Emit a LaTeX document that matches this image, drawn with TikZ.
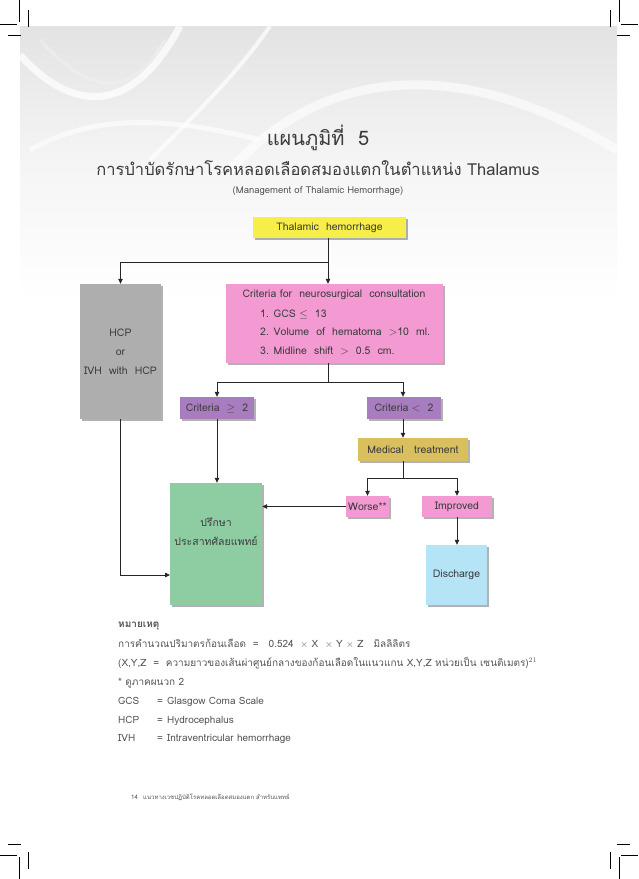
\documentclass[tikz,border=0pt]{standalone}
\usepackage{fontspec}
\setmainfont{Loma}[Script=Thai]
\usetikzlibrary{arrows.meta,shadows}
\definecolor{cyel}{HTML}{F7EE4A}
\definecolor{cpink}{HTML}{F39AD2}
\definecolor{cgray}{HTML}{AEAEAE}
\definecolor{cpurp}{HTML}{A87DBF}
\definecolor{cgold}{HTML}{D9BF5E}
\definecolor{cgreen}{HTML}{8ECDA2}
\definecolor{cblue}{HTML}{B5E4F7}
\definecolor{ctxt}{HTML}{3C3C3C}
\definecolor{cnote}{HTML}{555555}
\begin{document}
\begin{tikzpicture}[x=1pt,y=-1pt,
  box/.style={rectangle, inner sep=0pt, text=ctxt, align=center,
    font=\fontsize{10.5}{12}\selectfont,
    drop shadow={shadow xshift=1.6pt, shadow yshift=-1.6pt, opacity=0.3, fill=black}},
  btxt/.style={inner sep=0pt, text=ctxt, font=\fontsize{10.5}{12}\selectfont},
  ntxt/.style={inner sep=0pt, anchor=base west, text=cnote, font=\fontsize{10}{11}\selectfont},
  ln/.style={line width=0.8pt, draw=black!85},
  arr/.style={ln, -{Triangle[length=5pt,width=4.5pt]}},
  crop/.style={line width=0.6pt, draw=black}]
\useasboundingbox (0,0) rectangle (638,879);
\fill[white] (0,0) rectangle (638,879);
% background swirl
\shade[top color=black!11, bottom color=white, middle color=black!4] (20,26) rectangle (617,300);
\begin{scope}
\clip (20,26) rectangle (617,300);
\draw[white, line width=7pt, opacity=0.75] (20,55) .. controls (70,110) and (130,120) .. (180,26);
\draw[white, line width=4pt, opacity=0.7] (270,26) .. controls (240,70) and (200,110) .. (150,160);
\draw[white, line width=9pt, opacity=0.6] (230,170) .. controls (330,60) and (470,60) .. (617,150);
\draw[white, line width=5pt, opacity=0.6] (30,150) .. controls (100,110) and (180,120) .. (260,140);
\draw[black!6, line width=3pt, opacity=0.6] (40,40) .. controls (90,95) and (130,100) .. (165,40);
\end{scope}
% crop marks
\draw[crop] (0,24) -- (17,24) (8,35) -- (21,35) (19,0) -- (19,22) (28,10) -- (28,27);
\draw[crop] (638,24) -- (621,24) (630,35) -- (617,35) (619,0) -- (619,22) (610,10) -- (610,27);
\draw[crop] (0,855) -- (17,855) (8,844) -- (21,844) (19,879) -- (19,857) (28,869) -- (28,852);
\draw[crop] (638,855) -- (621,855) (630,844) -- (617,844) (619,879) -- (619,857) (610,869) -- (610,852);
% titles
\node[text=ctxt, font=\fontsize{20}{22}\selectfont] (t1) at (318,138) {แผนภูมิที่ \ 5};
\node[text=ctxt, font=\fontsize{16.5}{18}\selectfont] (t2) at (318,168) {การบำบัดรักษาโรคหลอดเลือดสมองแตกในตำแหน่ง Thalamus};
\node[text=cnote, font=\fontsize{9.5}{10}\selectfont] (t3) at (318,191) {(Management of Thalamic Hemorrhage)};
% boxes
\node[box, fill=cyel, minimum width=153pt, minimum height=21pt] (thal) at (329.5,227.5) {Thalamic \ hemorrhage};
\node[box, fill=cgray, minimum width=81pt, minimum height=135pt, font=\fontsize{10.5}{19}\selectfont] (hcp) at (120.5,351.5) {HCP\\or\\IVH \ with \ HCP};
\node[box, fill=cpink, minimum width=217pt, minimum height=79pt] (crit) at (334.5,323.5) {};
\node[btxt] (ct0) at (334,295) {Criteria for \ neurosurgical \ consultation};
\node[btxt, anchor=base west] (ct1) at (260,317) {1. GCS $\leq$ \ 13};
\node[btxt, anchor=base west] (ct2) at (260,335) {2. Volume \ of \ hematoma \ $>$10 \ ml.};
\node[btxt, anchor=base west] (ct3) at (260,354) {3. Midline \ shift \ $>$ \ 0.5 \ cm.};
\node[box, fill=cpurp, minimum width=74pt, minimum height=22pt] (cge) at (217,408) {Criteria \ $\geq$ \ 2};
\node[box, fill=cpurp, minimum width=74pt, minimum height=22pt] (clt) at (404,408) {Criteria $<$ \ 2};
\node[box, fill=cgold, minimum width=110pt, minimum height=23pt] (med) at (413,449.5) {Medical \ \ treatment};
\node[box, fill=cpink, minimum width=43pt, minimum height=21pt] (worse) at (367.5,506.5) {Worse**};
\node[box, fill=cpink, minimum width=70pt, minimum height=21pt] (impr) at (457,506.5) {Improved};
\node[box, fill=cgreen, minimum width=92pt, minimum height=122pt, font=\fontsize{10.5}{19}\selectfont] (green) at (216,544) {ปรึกษา\\ประสาทศัลยแพทย์\\[6pt]};
\node[box, fill=cblue, minimum width=61pt, minimum height=60pt] (disc) at (456.5,575) {Discharge};
% connectors
\coordinate (j1) at (328,262);
\coordinate (j2) at (328,382);
\coordinate (j3) at (403,478);
\coordinate (g1) at (170,575);
\draw[ln] (thal.south -| j1) -- (j1);
\draw[arr] (j1) -| (hcp.north);
\draw[arr] (j1) -- (crit.north -| j1);
\draw[ln] (crit.south -| j2) -- (j2);
\draw[arr] (j2) -| (cge.north);
\draw[arr] (j2) -| (clt.north -| j3);
\draw[arr] (clt.south -| j3) -- (med.north -| j3);
\draw[ln] (med.south -| j3) -- (j3);
\draw[arr] (j3) -| (worse.north);
\draw[arr] (j3) -| (impr.north);
\draw[arr] (worse.west) -- (worse.west -| green.east);
\draw[arr] (cge.south) -- (cge.south |- green.north);
\draw[arr] (hcp.south) |- (g1);
\draw[arr] (impr.south) -- (impr.south |- disc.north);
% notes
\node[ntxt, font=\fontsize{10}{11}\bfseries] (n0) at (118,627) {หมายเหตุ};
\node[ntxt] (n1) at (118,647) {การคำนวณปริมาตรก้อนเลือด \ = \ \ 0.524 \ $\times$ X \ $\times$ Y $\times$ Z \ \ มิลลิลิตร};
\node[ntxt] (n2) at (118,666) {(X,Y,Z \ = \ ความยาวของเส้นผ่าศูนย์กลางของก้อนเลือดในแนวแกน X,Y,Z หน่วยเป็น เซนติเมตร)$^{21}$};
\node[ntxt] (n3) at (118,685) {* ดูภาคผนวก 2};
\node[ntxt] (a1) at (118,704) {GCS};
\node[ntxt] (e1) at (157,704) {=};
\node[ntxt] (d1) at (167,704) {Glasgow Coma Scale};
\node[ntxt] (a2) at (118,723) {HCP};
\node[ntxt] (e2) at (157,723) {=};
\node[ntxt] (d2) at (167,723) {Hydrocephalus};
\node[ntxt] (a3) at (118,741) {IVH};
\node[ntxt] (e3) at (157,741) {=};
\node[ntxt] (d3) at (167,741) {Intraventricular hemorrhage};
% footer
\node[ntxt, font=\fontsize{6}{7}\selectfont] (f1) at (131,799) {14};
\node[ntxt, font=\fontsize{6}{7}\selectfont] (f2) at (143,799) {แนวทางเวชปฏิบัติโรคหลอดเลือดสมองแตก สำหรับแพทย์};
\end{tikzpicture}
\end{document}
